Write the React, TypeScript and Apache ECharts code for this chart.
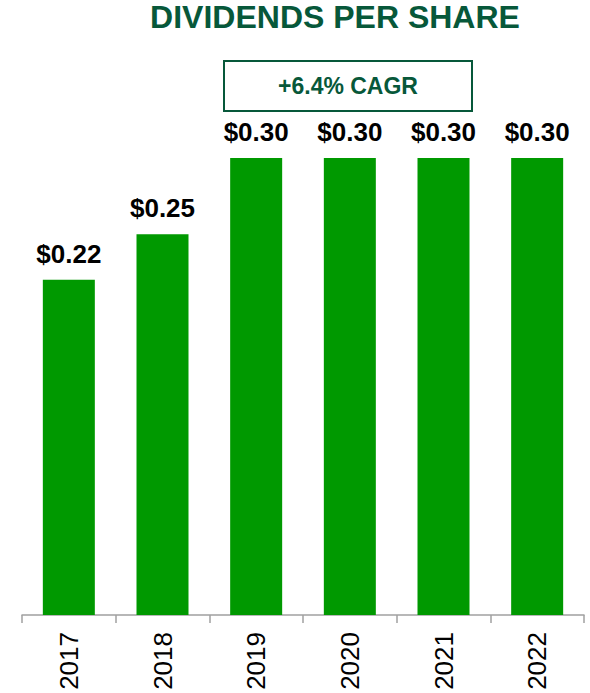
import React, { useEffect, useRef } from "react";
import * as echarts from "echarts";

const years = ["2017", "2018", "2019", "2020", "2021", "2022"];
const dividends = [0.22, 0.25, 0.3, 0.3, 0.3, 0.3];
const titleText = "DIVIDENDS PER SHARE";
const cagrText = "+6.4% CAGR";

const FONT = 'Arial, "Liberation Sans", Helvetica, sans-serif';
const DARK_GREEN = "#07583a";
const BAR_GREEN = "#009900";

export default function App() {
  const ref = useRef<HTMLDivElement>(null);
  useEffect(() => {
    if (!ref.current) return;
    const chart = echarts.init(ref.current, null, { renderer: "svg" });
    chart.setOption({
      animation: false,
      backgroundColor: "#ffffff",
      grid: { left: 22, right: 6, top: 158, bottom: 78 },
      xAxis: {
        type: "category",
        data: years,
        axisLine: { show: true, lineStyle: { color: "#a0a0a0", width: 1.5 } },
        axisTick: { show: true, length: 8, lineStyle: { color: "#a0a0a0", width: 1.5 } },
        axisLabel: {
          rotate: 90,
          margin: 17,
          color: "#000000",
          fontSize: 26,
          fontFamily: FONT,
        },
      },
      yAxis: {
        type: "value",
        min: 0,
        max: 0.3,
        show: false,
        splitLine: { show: false },
      },
      series: [
        {
          type: "bar",
          data: dividends,
          barWidth: 52,
          itemStyle: { color: BAR_GREEN },
          label: {
            show: true,
            position: "top",
            distance: 13,
            formatter: (p: any) => "$" + Number(p.value).toFixed(2),
            color: "#000000",
            fontSize: 26,
            fontWeight: "bold",
            fontFamily: FONT,
          },
        },
      ],
      graphic: [
        {
          type: "text",
          x: 335,
          y: 17,
          style: {
            text: titleText,
            fill: DARK_GREEN,
            fontSize: 32,
            fontWeight: "bold",
            fontFamily: FONT,
            textAlign: "center",
            textVerticalAlign: "middle",
          },
        },
        {
          type: "rect",
          shape: { x: 224, y: 61, width: 248, height: 50 },
          style: { fill: "#ffffff", stroke: DARK_GREEN, lineWidth: 2 },
        },
        {
          type: "text",
          x: 348,
          y: 86,
          style: {
            text: cagrText,
            fill: DARK_GREEN,
            fontSize: 23,
            fontWeight: "bold",
            fontFamily: FONT,
            textAlign: "center",
            textVerticalAlign: "middle",
          },
        },
      ],
    });
    return () => chart.dispose();
  }, []);
  return (
    <div
      ref={ref}
      style={{ position: "fixed", left: 0, top: 0, width: 590, height: 693 }}
    />
  );
}
